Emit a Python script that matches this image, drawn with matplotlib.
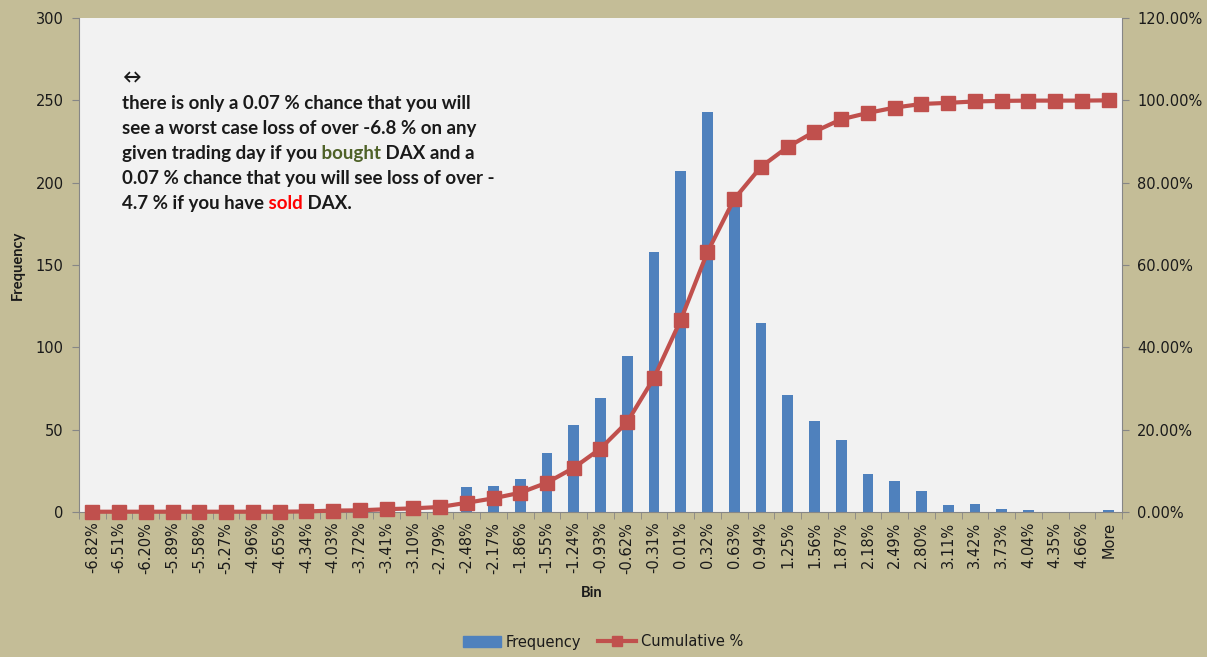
import numpy as np
import matplotlib.pyplot as plt
from matplotlib.patches import Patch
from matplotlib.lines import Line2D
from matplotlib.ticker import FuncFormatter, MultipleLocator

# Histogram bins of daily DAX returns (Excel style "Bin" labels)
bins = ["-6.82%", "-6.51%", "-6.20%", "-5.89%", "-5.58%", "-5.27%", "-4.96%",
        "-4.65%", "-4.34%", "-4.03%", "-3.72%", "-3.41%", "-3.10%", "-2.79%",
        "-2.48%", "-2.17%", "-1.86%", "-1.55%", "-1.24%", "-0.93%", "-0.62%",
        "-0.31%", "0.01%", "0.32%", "0.63%", "0.94%", "1.25%", "1.56%",
        "1.87%", "2.18%", "2.49%", "2.80%", "3.11%", "3.42%", "3.73%",
        "4.04%", "4.35%", "4.66%", "More"]

# Number of trading days falling in each bin
frequency = [1, 0, 0, 0, 0, 0, 0, 0, 1, 3, 1, 4, 3, 5,
             15, 16, 20, 36, 53, 69, 95, 158, 207, 243, 190, 115,
             71, 55, 44, 23, 19, 13, 4, 5, 2, 1, 0, 0, 1]

# Cumulative share of all days up to each bin
cumulative = np.cumsum(frequency) / np.sum(frequency)

BG = "#C4BD97"
PLOT_BG = "#F2F2F2"
BLUE = "#4F81BD"
RED = "#C0504D"
AXIS = "#868686"
TXT = "#1a1a1a"

fig = plt.figure(figsize=(12.07, 6.57), dpi=100, facecolor=BG)
ax = fig.add_axes([79 / 1207, 1 - 512 / 657, 1043 / 1207, 494 / 657])
ax.set_facecolor(PLOT_BG)

x = np.arange(len(bins))
ax.bar(x, frequency, width=0.4, color=BLUE, zorder=2)
ax.set_xlim(-0.5, len(bins) - 0.5)
ax.set_ylim(0, 300)
ax.yaxis.set_major_locator(MultipleLocator(50))

# category labels in the middle, tick marks on the category borders
ax.set_xticks(x)
ax.set_xticklabels(bins, rotation=90, fontsize=10.5, color=TXT)
ax.tick_params(axis="x", which="major", length=0, pad=7)
ax.set_xticks(np.arange(len(bins) + 1) - 0.5, minor=True)
ax.tick_params(axis="x", which="minor", length=5, color=AXIS, direction="out")
ax.tick_params(axis="y", length=5, color=AXIS, labelsize=10.5, labelcolor=TXT, pad=6)

for side in ["left", "bottom"]:
    ax.spines[side].set_color(AXIS)
ax.spines["top"].set_visible(False)
ax.spines["right"].set_visible(False)

# cumulative % on the secondary axis
ax2 = ax.twinx()
ax2.plot(x, cumulative, color=RED, lw=3, marker="s", markersize=9.5,
         clip_on=False, zorder=3)
ax2.set_ylim(0, 1.2)
ax2.yaxis.set_major_locator(MultipleLocator(0.2))
ax2.yaxis.set_major_formatter(FuncFormatter(lambda v, p: f"{v * 100:.2f}%"))
ax2.tick_params(axis="y", length=5, color=AXIS, labelsize=10.5, labelcolor=TXT, pad=6)
ax2.spines["right"].set_color(AXIS)
for side in ["left", "top", "bottom"]:
    ax2.spines[side].set_visible(False)

# axis titles
fig.text(18 / 1207, 1 - 265 / 657, "Frequency", rotation=90, ha="center", va="center",
         fontsize=10.5, fontweight="bold", family=["Lato", "DejaVu Sans"], color=TXT)
fig.text(592 / 1207, 1 - 593 / 657, "Bin", ha="center", va="center",
         fontsize=10.5, fontweight="bold", family=["Lato", "DejaVu Sans"], color=TXT)

# note in the top left corner, some words coloured
note_font = dict(fontsize=13.5, fontweight="bold", family=["Lato", "DejaVu Sans"])
lines = [
    [("↔", TXT)],
    [("there is only a 0.07 % chance that you will", TXT)],
    [("see a worst case loss of over -6.8 % on any", TXT)],
    [("given trading day if you", TXT), (" bought", "#4F6228"), (" DAX and a", TXT)],
    [("0.07 % chance that you will see loss of over -", TXT)],
    [("4.7 % if you have", TXT), (" sold", "#FF0000"), (" DAX.", TXT)],
]
line_y = [75, 101, 126, 151, 176, 201]
for parts, yc in zip(lines, line_y):
    prev = None
    for txt, col in parts:
        if prev is None:
            prev = fig.text(122 / 1207, 1 - (yc + 11) / 657, txt, ha="left", va="bottom",
                            color=col, **note_font)
        else:
            prev = ax.annotate(txt, xy=(1, 0), xycoords=prev, ha="left", va="bottom",
                               color=col, **note_font)

# legend under the chart
handles = [Patch(facecolor=BLUE, edgecolor=BLUE),
           Line2D([0], [0], color=RED, lw=3, marker="s", markersize=7)]
fig.legend(handles, ["Frequency", "Cumulative %"], loc="center",
           bbox_to_anchor=(603 / 1207, 1 - 642 / 657), ncol=2, frameon=False,
           fontsize=10.5, handlelength=2.6, handletextpad=0.3, columnspacing=1.2,
           labelcolor=TXT)

fig.savefig("out.png", dpi=100, facecolor=BG)
